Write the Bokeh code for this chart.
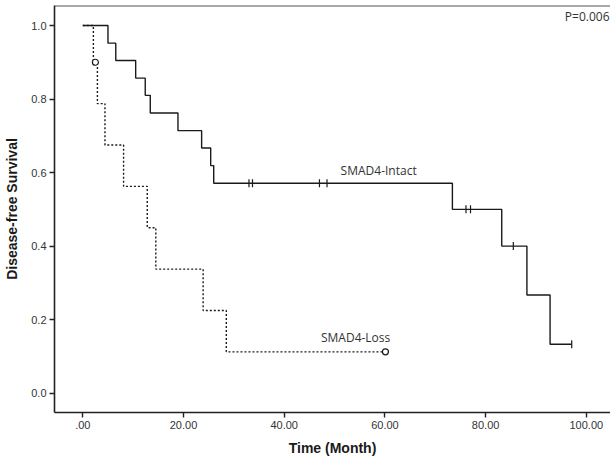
from bokeh.plotting import figure
from bokeh.models import FixedTicker, Label, Span
from bokeh.embed import file_html
from bokeh.resources import INLINE

# ---- data ----
intact_time = [0, 5.0, 6.55, 10.5, 12.4, 13.4, 18.9, 23.6, 25.4, 26.0, 73.4, 83.2, 88.2, 92.8, 97.1]
intact_surv = [1.0, 0.952, 0.905, 0.857, 0.810, 0.762, 0.714, 0.667, 0.619, 0.571, 0.500, 0.400, 0.267, 0.133, 0.133]
intact_cens_time = [33.0, 33.7, 47.0, 48.5, 76.1, 77.0, 85.5, 97.1]
intact_cens_surv = [0.571, 0.571, 0.571, 0.571, 0.500, 0.500, 0.400, 0.133]

loss_time = [0, 2.1, 2.9, 4.4, 8.1, 12.8, 14.5, 23.9, 28.5, 60.1]
loss_surv = [1.0, 0.9, 0.7875, 0.675, 0.5625, 0.45, 0.3375, 0.225, 0.1125, 0.1125]
loss_cens_time = [2.5, 60.1]
loss_cens_surv = [0.9, 0.1125]

x_ticks = [0, 20, 40, 60, 80, 100]
x_tick_labels = [".00", "20.00", "40.00", "60.00", "80.00", "100.00"]
y_ticks = [0.0, 0.2, 0.4, 0.6, 0.8, 1.0]
y_tick_labels = ["0.0", "0.2", "0.4", "0.6", "0.8", "1.0"]

X_END = 104.8
Y_END = 1.0544

p = figure(width=610, height=461, output_backend="svg", toolbar_location=None,
           x_range=(-5.62, X_END), y_range=(-0.0525, Y_END),
           min_border_left=54, min_border_right=0, min_border_top=5, min_border_bottom=49)

p.outline_line_color = None
p.grid.visible = False
p.background_fill_color = "white"
p.border_fill_color = "white"

# curves
p.step(intact_time, intact_surv, mode="after", line_color="#1a1a1a", line_width=1.4)
p.step(loss_time, loss_surv, mode="after", line_color="#1a1a1a", line_width=1.4, line_dash="2 2")

# censor marks
p.scatter(intact_cens_time, intact_cens_surv, marker="dash", angle=1.5708, size=8,
          line_color="#1a1a1a", line_width=1.2)
p.scatter(loss_cens_time, loss_cens_surv, marker="circle", size=6,
          fill_color="white", line_color="#1a1a1a", line_width=1.2)

# top border
p.add_layout(Span(location=Y_END, dimension="width", line_color="#555555", line_width=2))

# labels
p.add_layout(Label(x=51.2, y=0.606, text="SMAD4-Intact", text_font="Open Sans", text_font_size="12px",
                   text_color="#333333", text_baseline="middle", text_align="left"))
p.add_layout(Label(x=47.3, y=0.151, text="SMAD4-Loss", text_font="Open Sans", text_font_size="12px",
                   text_color="#333333", text_baseline="middle", text_align="left"))
p.add_layout(Label(x=104.6, y=1.025, text="P=0.006", text_font="Open Sans", text_font_size="12px",
                   text_color="#333333", text_baseline="middle", text_align="right"))

# axes
p.xaxis.ticker = FixedTicker(ticks=x_ticks)
p.xaxis.major_label_overrides = {t: l for t, l in zip(x_ticks, x_tick_labels)}
p.yaxis.ticker = FixedTicker(ticks=y_ticks)
p.yaxis.major_label_overrides = {t: l for t, l in zip(y_ticks, y_tick_labels)}

for ax in (p.xaxis, p.yaxis):
    ax.axis_line_color = "#222222"
    ax.axis_line_width = 1.6
    ax.major_tick_line_color = "#222222"
    ax.major_tick_line_width = 1.4
    ax.major_tick_out = 5
    ax.major_tick_in = 0
    ax.minor_tick_line_color = None
    ax.major_label_text_font = "Liberation Sans"
    ax.major_label_text_font_size = "11px"
    ax.major_label_text_color = "#333333"
    ax.major_label_standoff = 3
    ax.axis_label_text_font = "Liberation Sans"
    ax.axis_label_text_font_size = "14px"
    ax.axis_label_text_font_style = "bold"
    ax.axis_label_text_color = "#1a1a1a"

p.xaxis.axis_label = "Time (Month)"
p.yaxis.axis_label = "Disease-free Survival"
p.xaxis.axis_label_standoff = 8
p.yaxis.axis_label_standoff = 8

open("out.html", "w").write(file_html(p, INLINE))
